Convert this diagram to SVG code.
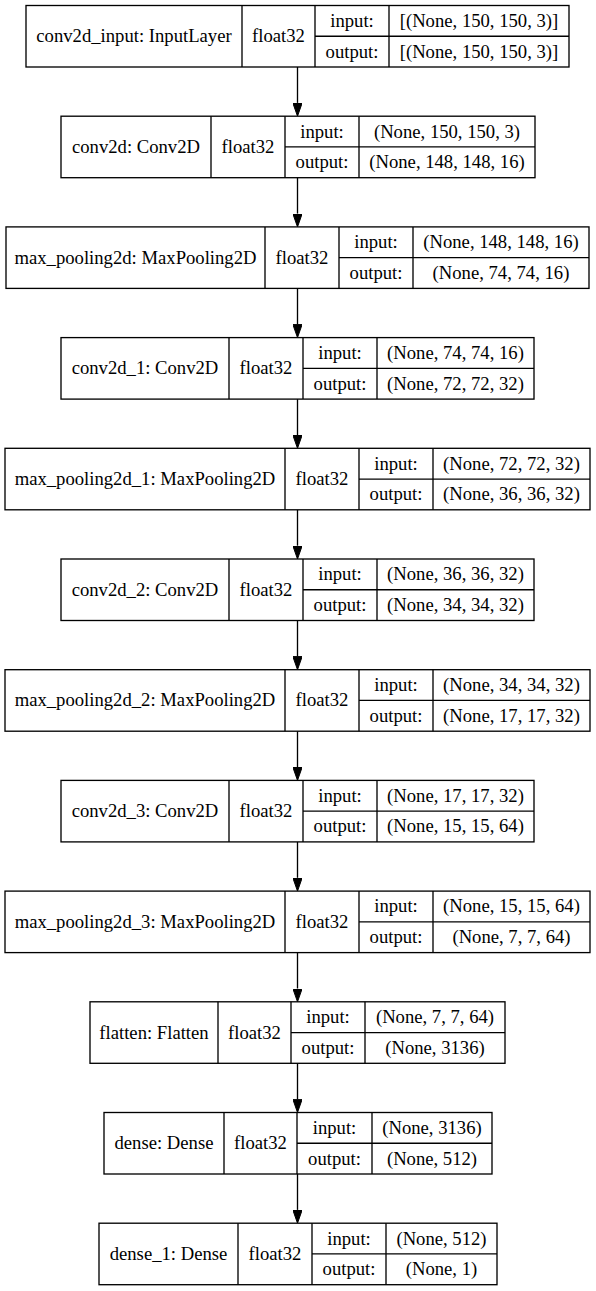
<svg xmlns="http://www.w3.org/2000/svg" width="596" height="1291" viewBox="0 0 596 1291">
<style>
  .box { fill: #fff; stroke: #000; stroke-width: 1.33; }
  .div { stroke: #000; stroke-width: 1.33; }
  text { font-family: "Liberation Serif", "Times New Roman", serif; font-size: 18.67px; fill: #000; text-anchor: middle; }
  .edge { stroke: #000; stroke-width: 1.33; fill: none; }
</style>
<defs>
  <marker id="ah" markerUnits="userSpaceOnUse" markerWidth="13.3" markerHeight="9.4" viewBox="0 0 13.3 9.4" refX="0" refY="4.7" orient="auto">
    <path d="M0,0 L13.3,4.7 L0,9.4 z" fill="#000" stroke="#000" stroke-width="1"/>
  </marker>
</defs>
<rect width="596" height="1291" fill="#fff"/>

<g id="connectors">
  <line class="edge" x1="297.5" y1="67" x2="297.5" y2="102.9" marker-end="url(#ah)"/>
  <line class="edge" x1="297.5" y1="177.7" x2="297.5" y2="213.6" marker-end="url(#ah)"/>
  <line class="edge" x1="297.5" y1="288.4" x2="297.5" y2="324.3" marker-end="url(#ah)"/>
  <line class="edge" x1="297.5" y1="399.1" x2="297.5" y2="435" marker-end="url(#ah)"/>
  <line class="edge" x1="297.5" y1="509.8" x2="297.5" y2="545.7" marker-end="url(#ah)"/>
  <line class="edge" x1="297.5" y1="620.5" x2="297.5" y2="656.4" marker-end="url(#ah)"/>
  <line class="edge" x1="297.5" y1="731.2" x2="297.5" y2="767.1" marker-end="url(#ah)"/>
  <line class="edge" x1="297.5" y1="841.9" x2="297.5" y2="877.8" marker-end="url(#ah)"/>
  <line class="edge" x1="297.5" y1="952.6" x2="297.5" y2="988.5" marker-end="url(#ah)"/>
  <line class="edge" x1="297.5" y1="1063.3" x2="297.5" y2="1099.2" marker-end="url(#ah)"/>
  <line class="edge" x1="297.5" y1="1174" x2="297.5" y2="1209.9" marker-end="url(#ah)"/>
</g>

<g id="conv2d_input" transform="translate(0,5.5)">
  <rect class="box" x="26" y="0" width="543" height="61.5"/>
  <line class="div" x1="242" y1="0" x2="242" y2="61.5"/>
  <line class="div" x1="315" y1="0" x2="315" y2="61.5"/>
  <line class="div" x1="389" y1="0" x2="389" y2="61.5"/>
  <line class="div" x1="315" y1="30.75" x2="569" y2="30.75"/>
  <text x="134" y="36.8">conv2d_input: InputLayer</text>
  <text x="278.5" y="36.8">float32</text>
  <text x="352" y="21.4">input:</text>
  <text x="352" y="52.1">output:</text>
  <text x="479" y="21.4">[(None, 150, 150, 3)]</text>
  <text x="479" y="52.1">[(None, 150, 150, 3)]</text>
</g>

<g id="conv2d" transform="translate(0,116.2)">
  <rect class="box" x="61" y="0" width="474" height="61.5"/>
  <line class="div" x1="211" y1="0" x2="211" y2="61.5"/>
  <line class="div" x1="285" y1="0" x2="285" y2="61.5"/>
  <line class="div" x1="359" y1="0" x2="359" y2="61.5"/>
  <line class="div" x1="285" y1="30.75" x2="535" y2="30.75"/>
  <text x="136" y="36.8">conv2d: Conv2D</text>
  <text x="248" y="36.8">float32</text>
  <text x="322" y="21.4">input:</text>
  <text x="322" y="52.1">output:</text>
  <text x="447" y="21.4">(None, 150, 150, 3)</text>
  <text x="447" y="52.1">(None, 148, 148, 16)</text>
</g>

<g id="max_pooling2d" transform="translate(0,226.9)">
  <rect class="box" x="6" y="0" width="583" height="61.5"/>
  <line class="div" x1="265" y1="0" x2="265" y2="61.5"/>
  <line class="div" x1="339" y1="0" x2="339" y2="61.5"/>
  <line class="div" x1="413" y1="0" x2="413" y2="61.5"/>
  <line class="div" x1="339" y1="30.75" x2="589" y2="30.75"/>
  <text x="135.5" y="36.8">max_pooling2d: MaxPooling2D</text>
  <text x="302" y="36.8">float32</text>
  <text x="376" y="21.4">input:</text>
  <text x="376" y="52.1">output:</text>
  <text x="501" y="21.4">(None, 148, 148, 16)</text>
  <text x="501" y="52.1">(None, 74, 74, 16)</text>
</g>

<g id="conv2d_1" transform="translate(0,337.6)">
  <rect class="box" x="61" y="0" width="473" height="61.5"/>
  <line class="div" x1="229" y1="0" x2="229" y2="61.5"/>
  <line class="div" x1="303" y1="0" x2="303" y2="61.5"/>
  <line class="div" x1="377" y1="0" x2="377" y2="61.5"/>
  <line class="div" x1="303" y1="30.75" x2="534" y2="30.75"/>
  <text x="145" y="36.8">conv2d_1: Conv2D</text>
  <text x="266" y="36.8">float32</text>
  <text x="340" y="21.4">input:</text>
  <text x="340" y="52.1">output:</text>
  <text x="455.5" y="21.4">(None, 74, 74, 16)</text>
  <text x="455.5" y="52.1">(None, 72, 72, 32)</text>
</g>

<g id="max_pooling2d_1" transform="translate(0,448.3)">
  <rect class="box" x="5" y="0" width="585" height="61.5"/>
  <line class="div" x1="285" y1="0" x2="285" y2="61.5"/>
  <line class="div" x1="359" y1="0" x2="359" y2="61.5"/>
  <line class="div" x1="433" y1="0" x2="433" y2="61.5"/>
  <line class="div" x1="359" y1="30.75" x2="590" y2="30.75"/>
  <text x="145" y="36.8">max_pooling2d_1: MaxPooling2D</text>
  <text x="322" y="36.8">float32</text>
  <text x="396" y="21.4">input:</text>
  <text x="396" y="52.1">output:</text>
  <text x="511.5" y="21.4">(None, 72, 72, 32)</text>
  <text x="511.5" y="52.1">(None, 36, 36, 32)</text>
</g>

<g id="conv2d_2" transform="translate(0,559)">
  <rect class="box" x="61" y="0" width="473" height="61.5"/>
  <line class="div" x1="229" y1="0" x2="229" y2="61.5"/>
  <line class="div" x1="303" y1="0" x2="303" y2="61.5"/>
  <line class="div" x1="377" y1="0" x2="377" y2="61.5"/>
  <line class="div" x1="303" y1="30.75" x2="534" y2="30.75"/>
  <text x="145" y="36.8">conv2d_2: Conv2D</text>
  <text x="266" y="36.8">float32</text>
  <text x="340" y="21.4">input:</text>
  <text x="340" y="52.1">output:</text>
  <text x="455.5" y="21.4">(None, 36, 36, 32)</text>
  <text x="455.5" y="52.1">(None, 34, 34, 32)</text>
</g>

<g id="max_pooling2d_2" transform="translate(0,669.7)">
  <rect class="box" x="5" y="0" width="585" height="61.5"/>
  <line class="div" x1="285" y1="0" x2="285" y2="61.5"/>
  <line class="div" x1="359" y1="0" x2="359" y2="61.5"/>
  <line class="div" x1="433" y1="0" x2="433" y2="61.5"/>
  <line class="div" x1="359" y1="30.75" x2="590" y2="30.75"/>
  <text x="145" y="36.8">max_pooling2d_2: MaxPooling2D</text>
  <text x="322" y="36.8">float32</text>
  <text x="396" y="21.4">input:</text>
  <text x="396" y="52.1">output:</text>
  <text x="511.5" y="21.4">(None, 34, 34, 32)</text>
  <text x="511.5" y="52.1">(None, 17, 17, 32)</text>
</g>

<g id="conv2d_3" transform="translate(0,780.4)">
  <rect class="box" x="61" y="0" width="473" height="61.5"/>
  <line class="div" x1="229" y1="0" x2="229" y2="61.5"/>
  <line class="div" x1="303" y1="0" x2="303" y2="61.5"/>
  <line class="div" x1="377" y1="0" x2="377" y2="61.5"/>
  <line class="div" x1="303" y1="30.75" x2="534" y2="30.75"/>
  <text x="145" y="36.8">conv2d_3: Conv2D</text>
  <text x="266" y="36.8">float32</text>
  <text x="340" y="21.4">input:</text>
  <text x="340" y="52.1">output:</text>
  <text x="455.5" y="21.4">(None, 17, 17, 32)</text>
  <text x="455.5" y="52.1">(None, 15, 15, 64)</text>
</g>

<g id="max_pooling2d_3" transform="translate(0,891.1)">
  <rect class="box" x="5" y="0" width="585" height="61.5"/>
  <line class="div" x1="285" y1="0" x2="285" y2="61.5"/>
  <line class="div" x1="359" y1="0" x2="359" y2="61.5"/>
  <line class="div" x1="433" y1="0" x2="433" y2="61.5"/>
  <line class="div" x1="359" y1="30.75" x2="590" y2="30.75"/>
  <text x="145" y="36.8">max_pooling2d_3: MaxPooling2D</text>
  <text x="322" y="36.8">float32</text>
  <text x="396" y="21.4">input:</text>
  <text x="396" y="52.1">output:</text>
  <text x="511.5" y="21.4">(None, 15, 15, 64)</text>
  <text x="511.5" y="52.1">(None, 7, 7, 64)</text>
</g>

<g id="flatten" transform="translate(0,1001.8)">
  <rect class="box" x="90" y="0" width="415" height="61.5"/>
  <line class="div" x1="218" y1="0" x2="218" y2="61.5"/>
  <line class="div" x1="291" y1="0" x2="291" y2="61.5"/>
  <line class="div" x1="365" y1="0" x2="365" y2="61.5"/>
  <line class="div" x1="291" y1="30.75" x2="505" y2="30.75"/>
  <text x="154" y="36.8">flatten: Flatten</text>
  <text x="254.5" y="36.8">float32</text>
  <text x="328" y="21.4">input:</text>
  <text x="328" y="52.1">output:</text>
  <text x="435" y="21.4">(None, 7, 7, 64)</text>
  <text x="435" y="52.1">(None, 3136)</text>
</g>

<g id="dense" transform="translate(0,1112.5)">
  <rect class="box" x="104" y="0" width="388" height="61.5"/>
  <line class="div" x1="224" y1="0" x2="224" y2="61.5"/>
  <line class="div" x1="297" y1="0" x2="297" y2="61.5"/>
  <line class="div" x1="372" y1="0" x2="372" y2="61.5"/>
  <line class="div" x1="297" y1="30.75" x2="492" y2="30.75"/>
  <text x="164" y="36.8">dense: Dense</text>
  <text x="260.5" y="36.8">float32</text>
  <text x="334.5" y="21.4">input:</text>
  <text x="334.5" y="52.1">output:</text>
  <text x="432" y="21.4">(None, 3136)</text>
  <text x="432" y="52.1">(None, 512)</text>
</g>

<g id="dense_1" transform="translate(0,1223.2)">
  <rect class="box" x="99" y="0" width="398" height="61.5"/>
  <line class="div" x1="238" y1="0" x2="238" y2="61.5"/>
  <line class="div" x1="312" y1="0" x2="312" y2="61.5"/>
  <line class="div" x1="386" y1="0" x2="386" y2="61.5"/>
  <line class="div" x1="312" y1="30.75" x2="497" y2="30.75"/>
  <text x="168.5" y="36.8">dense_1: Dense</text>
  <text x="275" y="36.8">float32</text>
  <text x="349" y="21.4">input:</text>
  <text x="349" y="52.1">output:</text>
  <text x="441.5" y="21.4">(None, 512)</text>
  <text x="441.5" y="52.1">(None, 1)</text>
</g>
</svg>
